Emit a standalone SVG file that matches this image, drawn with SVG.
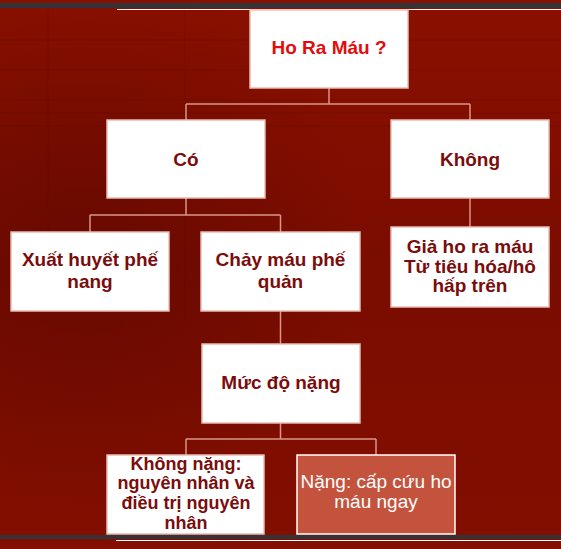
<svg xmlns="http://www.w3.org/2000/svg" width="561" height="549" viewBox="0 0 561 549">
<defs>
<linearGradient id="bg" x1="0" y1="0" x2="0" y2="1">
<stop offset="0" stop-color="#8a1000"/>
<stop offset="0.5" stop-color="#7a0c00"/>
<stop offset="1" stop-color="#820f00"/>
</linearGradient>
<radialGradient id="shade" cx="0.15" cy="0.45" r="0.5">
<stop offset="0" stop-color="#4a0500" stop-opacity="0.4"/>
<stop offset="1" stop-color="#4a0500" stop-opacity="0"/>
</radialGradient>
<style>
.box{fill:#ffffff;stroke:#e8bcb4;stroke-width:1.5}
.hot{fill:#c4533e;stroke:#ffffff;stroke-width:1.5}
.t{font-family:"Liberation Sans",Arial,sans-serif;font-weight:bold;font-size:19px;fill:#7b0c0c;text-anchor:middle}
.s{font-size:18px}
.w{font-family:"Liberation Sans",Arial,sans-serif;font-size:19px;fill:#ffffff;text-anchor:middle}
.c{fill:none;stroke:#d9958b;stroke-width:1.5}
.grid{stroke:#5a0600;stroke-width:1;opacity:0.25}
</style>
</defs>
<rect x="0" y="0" width="561" height="549" fill="url(#bg)"/>
<rect x="0" y="0" width="561" height="549" fill="url(#shade)"/>
<g class="grid">
<line x1="0" y1="40" x2="561" y2="40"/>
<line x1="0" y1="70" x2="561" y2="70"/>
<line x1="0" y1="100" x2="561" y2="100"/>
<line x1="0" y1="113" x2="561" y2="113"/>
<line x1="0" y1="126" x2="561" y2="126"/>
<line x1="48" y1="10" x2="48" y2="320"/>
<line x1="185" y1="10" x2="185" y2="320"/>
</g>
<rect x="0" y="3" width="561" height="5" fill="#333338"/>
<line x1="117" y1="9.5" x2="561" y2="9.5" stroke="#ffffff" stroke-width="1.2"/>
<rect x="0" y="535" width="561" height="4" fill="#333338"/>
<line x1="116" y1="540.5" x2="561" y2="540.5" stroke="#ffffff" stroke-width="1.2"/>
<g id="connectors">
<path class="c" d="M329,88 V104 M186,104 H470 M186,104 V120 M470,104 V120"/>
<path class="c" d="M186,198 V215 M90,215 H280.5 M90,215 V232 M280.5,215 V232"/>
<path class="c" d="M470,198 V227"/>
<path class="c" d="M280.5,311 V344"/>
<path class="c" d="M280.5,423 V439 M186,439 H376 M186,439 V455 M376,439 V455"/>
</g>
<g id="n-horamau">
<rect class="box" x="250" y="10" width="158" height="78"/>
<text class="t" x="329" y="54" style="fill:#e30b0b">Ho Ra Máu ?</text>
</g>
<g id="n-co">
<rect class="box" x="107" y="120" width="158" height="78"/>
<text class="t" x="186" y="166">Có</text>
</g>
<g id="n-khong">
<rect class="box" x="391" y="120" width="158" height="78"/>
<text class="t" x="470" y="166">Không</text>
</g>
<g id="n-xuathuyet">
<rect class="box" x="11" y="232" width="158" height="79"/>
<text class="t" x="90" y="266">Xuất huyết phế</text>
<text class="t" x="90" y="288">nang</text>
</g>
<g id="n-chaymau">
<rect class="box" x="201" y="232" width="159" height="79"/>
<text class="t" x="280.5" y="266">Chảy máu phế</text>
<text class="t" x="280.5" y="288">quản</text>
</g>
<g id="n-giaho">
<rect class="box" x="391" y="227" width="158" height="80"/>
<text class="t" x="470" y="253">Giả ho ra máu</text>
<text class="t" x="470" y="272.5">Từ tiêu hóa/hô</text>
<text class="t" x="470" y="291.5">hấp trên</text>
</g>
<g id="n-mucdo">
<rect class="box" x="202" y="344" width="158" height="79"/>
<text class="t" x="281" y="389">Mức độ nặng</text>
</g>
<g id="n-khongnang">
<rect class="box" x="107" y="455" width="157" height="79"/>
<text class="t s" x="186" y="469.5">Không nặng:</text>
<text class="t s" x="186" y="489">nguyên nhân và</text>
<text class="t s" x="186" y="508.5">điều trị nguyên</text>
<text class="t s" x="186" y="529">nhân</text>
</g>
<g id="n-nang">
<rect class="hot" x="297" y="455" width="158" height="79"/>
<text class="w" x="376" y="488">Nặng: cấp cứu ho</text>
<text class="w" x="376" y="508">máu ngay</text>
</g>
</svg>
